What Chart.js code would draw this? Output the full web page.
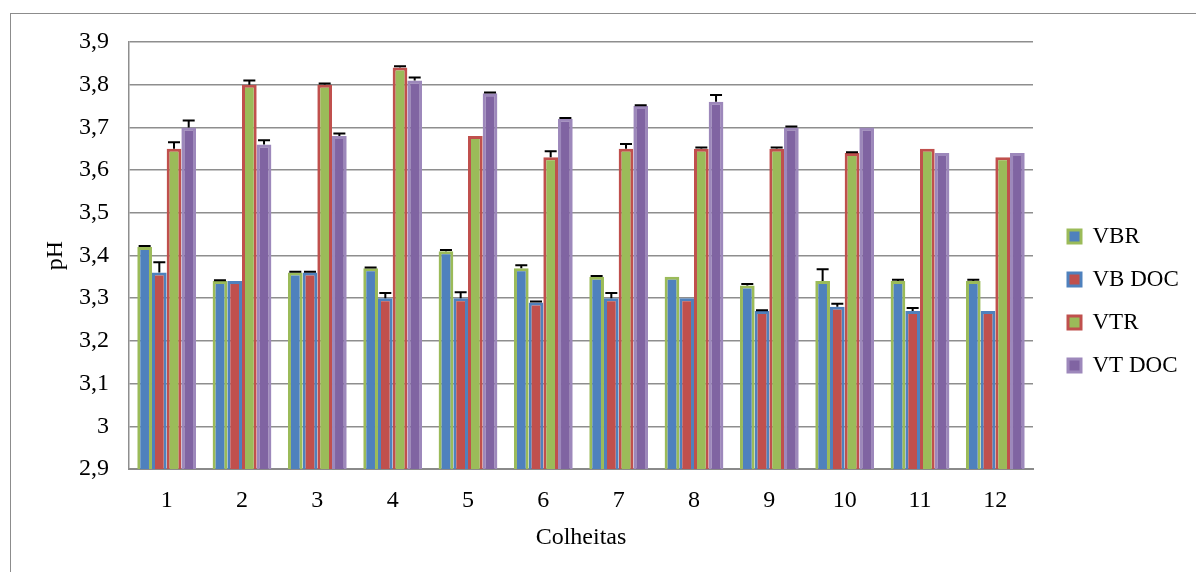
<!DOCTYPE html>
<html lang="pt">
<head>
<meta charset="UTF-8" />
<title>pH por colheita</title>
<script src="https://cdn.jsdelivr.net/npm/chart.js"></script>
<style>
    html, body { margin: 0; padding: 0; background: #fff; overflow: hidden; }
    #frame { position: absolute; left: 10px; top: 13px; width: 1300px; height: 700px; border: 1.5px solid #8c8c8c; }
    #wrap { position: absolute; left: 0; top: 0; width: 1196px; height: 572px; }
</style>
</head>
<body>
<div id="frame"></div>
<div id="wrap"><canvas id="phChart"></canvas></div>
<script>
    const colheitas = ['1', '2', '3', '4', '5', '6', '7', '8', '9', '10', '11', '12'];
    const yTickValues = [2.9, 3.0, 3.1, 3.2, 3.3, 3.4, 3.5, 3.6, 3.7, 3.8, 3.9];

    const vbr = [3.42, 3.34, 3.36, 3.37, 3.41, 3.37, 3.35, 3.35, 3.33, 3.34, 3.34, 3.34];
    const vbDoc = [3.36, 3.34, 3.36, 3.30, 3.30, 3.29, 3.30, 3.30, 3.27, 3.28, 3.27, 3.27];
    const vtr = [3.65, 3.80, 3.80, 3.84, 3.68, 3.63, 3.65, 3.65, 3.65, 3.64, 3.65, 3.63];
    const vtDoc = [3.70, 3.66, 3.68, 3.81, 3.78, 3.72, 3.75, 3.76, 3.70, 3.70, 3.64, 3.64];

    // upper error (standard deviation) per bar
    const vbrErr = [0.002, 0.002, 0.002, 0.002, 0.003, 0.007, 0.002, 0, 0.003, 0.028, 0.003, 0.003];
    const vbDocErr = [0.024, 0, 0.002, 0.012, 0.014, 0.002, 0.012, 0, 0.002, 0.007, 0.007, 0];
    const vtrErr = [0.015, 0.01, 0.003, 0.003, 0, 0.014, 0.011, 0.003, 0.003, 0.002, 0, 0];
    const vtDocErr = [0.016, 0.01, 0.006, 0.007, 0.002, 0.002, 0.002, 0.016, 0.002, 0, 0, 0];

    const FONT = "'Liberation Serif', 'Times New Roman', serif";
    const GRID = '#8e8e8e';

    const errorBars = {
        id: 'errorBars',
        afterDatasetsDraw(chart) {
            const { ctx } = chart;
            const yScale = chart.scales.y;
            ctx.save();
            ctx.strokeStyle = '#000';
            ctx.lineWidth = 2;
            chart.data.datasets.forEach((ds, i) => {
                const meta = chart.getDatasetMeta(i);
                meta.data.forEach((bar, j) => {
                    const e = ds.errors[j];
                    if (!e) return;
                    const y0 = yScale.getPixelForValue(ds.data[j]);
                    const y1 = yScale.getPixelForValue(ds.data[j] + e);
                    ctx.beginPath();
                    ctx.moveTo(bar.x, y0);
                    ctx.lineTo(bar.x, y1);
                    ctx.moveTo(bar.x - 6, y1);
                    ctx.lineTo(bar.x + 6, y1);
                    ctx.stroke();
                });
            });
            ctx.restore();
        }
    };

    function series(label, data, errors, fill, border) {
        return {
            label, data, errors,
            backgroundColor: fill,
            borderColor: border,
            borderWidth: 3,
            borderSkipped: false,
            categoryPercentage: 0.78,
            barPercentage: 1.0
        };
    }

    const chart = new Chart(document.getElementById('phChart'), {
        type: 'bar',
        data: {
            labels: colheitas,
            datasets: [
                series('VBR', vbr, vbrErr, '#4F81BD', '#9BBB59'),
                series('VB DOC', vbDoc, vbDocErr, '#C0504D', '#4F81BD'),
                series('VTR', vtr, vtrErr, '#9BBB59', '#C0504D'),
                series('VT DOC', vtDoc, vtDocErr, '#8064A2', '#9d88bb')
            ]
        },
        options: {
            responsive: true,
            maintainAspectRatio: false,
            animation: false,
            layout: { padding: { left: 41, top: 42, right: 0, bottom: 20 } },
            scales: {
                x: {
                    afterFit: (scale) => { scale.height = 83; },
                    grid: { display: false, drawTicks: false },
                    border: { display: true, color: '#8a8a8a', width: 2 },
                    ticks: { color: '#000', padding: 17, font: { family: FONT, size: 24 } },
                    title: { display: true, text: 'Colheitas', color: '#000', padding: { top: 10, bottom: 0 }, font: { family: FONT, size: 24 } }
                },
                y: {
                    min: 2.9,
                    max: 3.9,
                    afterBuildTicks: (scale) => { scale.ticks = yTickValues.map(v => ({ value: v })); },
                    afterFit: (scale) => { scale.width = 88; },
                    grid: { color: GRID, lineWidth: 1.5, drawTicks: false },
                    border: { display: true, color: GRID, width: 1.5 },
                    ticks: {
                        color: '#000',
                        padding: 20,
                        font: { family: FONT, size: 24 },
                        callback: (v) => String(Number(v.toFixed(1))).replace('.', ',')
                    },
                    title: { display: true, text: 'pH', color: '#000', padding: { top: 0, bottom: 0 }, font: { family: FONT, size: 24 } }
                },
                gap: {
                    position: 'right',
                    display: true,
                    afterFit: (scale) => { scale.width = 15; },
                    grid: { display: false },
                    border: { display: false },
                    ticks: { display: false }
                }
            },
            plugins: {
                legend: {
                    position: 'right',
                    title: { display: true, text: ' ', padding: 0, font: { size: 8, lineHeight: 1 } },
                    labels: {
                        color: '#000',
                        boxWidth: 13,
                        boxHeight: 13,
                        padding: 20,
                        font: { family: FONT, size: 23 }
                    }
                },
                tooltip: { enabled: false }
            }
        },
        plugins: [errorBars]
    });

    // legend takes a fixed width so the plot ends where the original does
    const origFit = chart.legend.fit;
    chart.legend.fit = function () {
        origFit.call(this);
        this.width = 148;
    };
    chart.update('none');
</script>
</body>
</html>
